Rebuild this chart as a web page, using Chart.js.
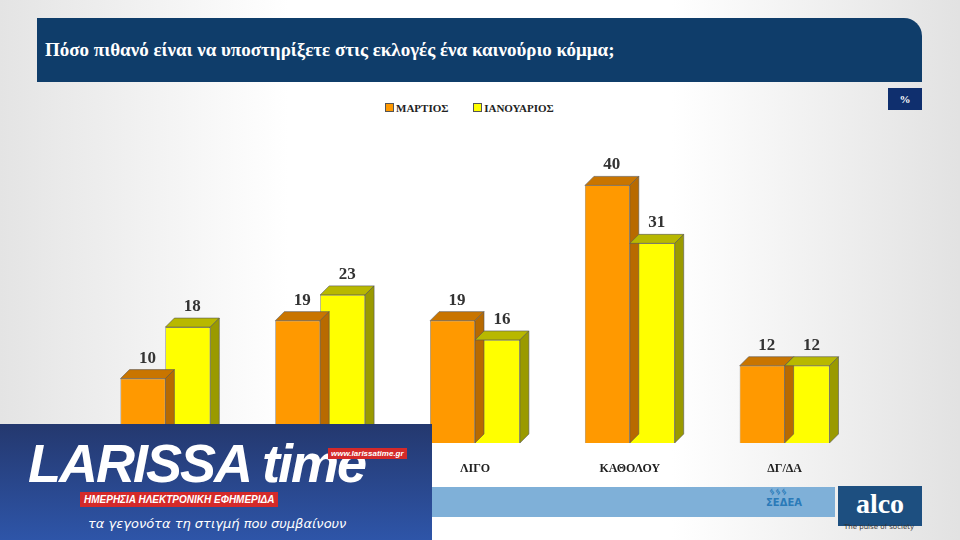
<!DOCTYPE html>
<html><head><meta charset="utf-8">
<script src="https://cdn.jsdelivr.net/npm/chart.js@4"></script>
<style>
body{margin:0;width:960px;height:540px;overflow:hidden;position:relative;font-family:"Liberation Serif",serif;
background:linear-gradient(90deg,#e4e4e4 0%,#ffffff 30%,#ffffff 70%,#e2e2e2 100%);}
#title{position:absolute;left:37px;top:18px;width:885px;height:64px;background:#0f3d6a;border-top-right-radius:18px;
color:#fff;font-size:19px;font-weight:bold;line-height:64px;padding-left:8px;box-sizing:border-box;}
#pct{position:absolute;left:888px;top:88px;width:34px;height:22px;background:#0f2f6e;color:#fff;font-size:11px;font-weight:bold;text-align:center;line-height:22px;}
#legend{position:absolute;left:385px;top:102px;font-size:11px;font-weight:bold;color:#222;}
#legend span{display:inline-block;width:7px;height:7px;border:1px solid #555;margin-right:2px;}
#band{position:absolute;left:430px;top:487px;width:405px;height:30px;background:#7fb0d8;}
#sedea{position:absolute;left:766px;top:486px;color:#2a7ab8;font-family:"DejaVu Sans";font-size:10px;font-weight:bold;}
#alco{position:absolute;left:838px;top:486px;width:84px;height:40px;background:#1d4f80;color:#fff;font-size:28px;font-weight:bold;text-align:center;line-height:36px;}
#alco small{position:absolute;left:6px;top:36px;font-size:7px;color:#333;font-family:"DejaVu Sans";line-height:10px;font-weight:normal}
#logo{position:absolute;left:0;top:424px;width:432px;height:116px;background:linear-gradient(180deg,#24386e,#2e55a8);}
#logo .big{position:absolute;left:28px;top:8px;color:#fff;font-family:"Liberation Sans";font-style:italic;font-weight:bold;font-size:54px;letter-spacing:-2px;}
#logo .red{position:absolute;left:80px;top:68px;background:#d42a2a;color:#fff;font-family:"Liberation Sans";font-style:italic;font-weight:bold;font-size:10px;padding:2px 4px;}
#logo .url{position:absolute;left:328px;top:24px;background:#d42a2a;color:#fff;font-family:"Liberation Sans";font-style:italic;font-weight:bold;font-size:8px;padding:1px 3px;}
#logo .sub{position:absolute;left:88px;top:92px;color:#fff;font-family:"DejaVu Sans";font-style:italic;font-size:13px;}
canvas{position:absolute;left:0;top:0;}
</style></head><body>
<div id="title">Πόσο πιθανό είναι να υποστηρίξετε στις εκλογές ένα καινούριο κόμμα;</div>
<div id="pct">%</div>
<div id="legend"><span style="background:#ff9900"></span>ΜΑΡΤΙΟΣ &nbsp;&nbsp;&nbsp;&nbsp;&nbsp;&nbsp;&nbsp;&nbsp;<span style="background:#ffff00"></span>ΙΑΝΟΥΑΡΙΟΣ</div>
<div id="band"></div>
<div id="sedea">&nbsp;ᛃᛃᛃ<br>ΣΕΔΕΑ</div>
<div id="alco">alco<small>The pulse of society</small></div>
<canvas id="c" width="960" height="540"></canvas>
<div id="logo"><div class="big">LARISSA time</div><div class="url">www.larissatime.gr</div><div class="red">ΗΜΕΡΗΣΙΑ ΗΛΕΚΤΡΟΝΙΚΗ ΕΦΗΜΕΡΙΔΑ</div><div class="sub">τα γεγονότα τη στιγμή που συμβαίνουν</div></div>
<script>
const categories = ["ΠΟΛΥ", "ΑΡΚΕΤΑ", "ΛΙΓΟ", "ΚΑΘΟΛΟΥ", "ΔΓ/ΔΑ"];
const march = [10, 19, 19, 40, 12];
const january = [18, 23, 16, 31, 12];

const D = 9;
const bar3d = {
  id: 'bar3d',
  afterDatasetsDraw(chart) {
    const ctx = chart.ctx;
    const sides = [['#b86a00', '#c97500'], ['#9a9a00', '#b8b800']];
    chart.data.datasets.forEach((ds, i) => {
      chart.getDatasetMeta(i).data.forEach((b, j) => {
        const l = b.x - b.width / 2, r = b.x + b.width / 2, t = b.y, btm = b.base;
        ctx.fillStyle = sides[i][1]; ctx.strokeStyle = '#555'; ctx.lineWidth = 0.6;
        ctx.beginPath(); ctx.moveTo(l, t); ctx.lineTo(l + D, t - D); ctx.lineTo(r + D, t - D); ctx.lineTo(r, t); ctx.closePath(); ctx.fill(); ctx.stroke();
        ctx.fillStyle = sides[i][0];
        ctx.beginPath(); ctx.moveTo(r, t); ctx.lineTo(r + D, t - D); ctx.lineTo(r + D, btm - D); ctx.lineTo(r, btm); ctx.closePath(); ctx.fill(); ctx.stroke();
        ctx.fillStyle = '#333'; ctx.font = 'bold 17px "Liberation Serif"'; ctx.textAlign = 'center';
        ctx.fillText(ds.data[j], b.x + D / 2, t - D - 7);
      });
    });
    const xs = chart.scales.x;
    ctx.font = 'bold 12px "Liberation Serif"'; ctx.fillStyle = '#222';
    categories.forEach((c, k) => ctx.fillText(c, xs.getPixelForValue(k), 472));
  }
};

new Chart(document.getElementById('c'), {
  type: 'bar',
  data: {
    labels: categories,
    datasets: [
      { label: 'ΜΑΡΤΙΟΣ', data: march, backgroundColor: '#ff9900', borderColor: '#555', borderWidth: 0.6 },
      { label: 'ΙΑΝΟΥΑΡΙΟΣ', data: january, backgroundColor: '#ffff00', borderColor: '#555', borderWidth: 0.6 }
    ]
  },
  options: {
    responsive: false, animation: false,
    layout: { padding: { left: 88, right: 98, top: 121, bottom: 97 } },
    datasets: { bar: { categoryPercentage: 0.58, barPercentage: 1 } },
    scales: {
      x: { display: false },
      y: { display: false, min: 0, max: 50 }
    },
    plugins: { legend: { display: false }, tooltip: { enabled: false } }
  },
  plugins: [bar3d]
});
</script>
</body></html>
